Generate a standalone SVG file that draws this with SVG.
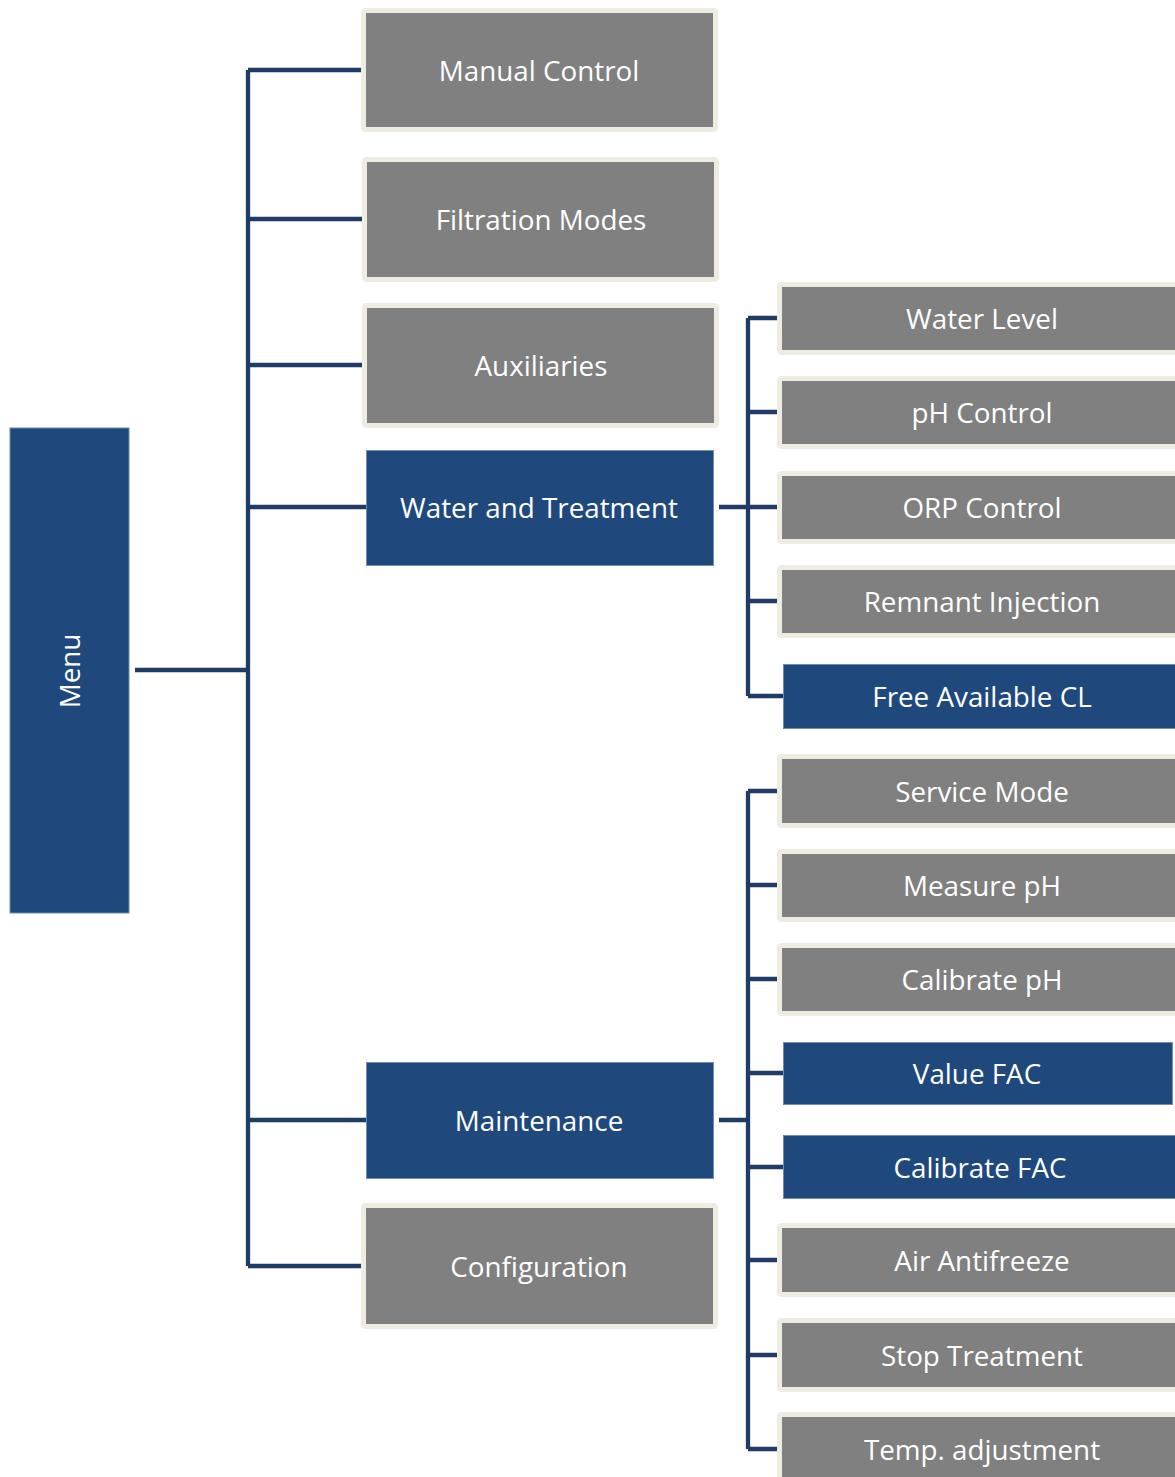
<svg xmlns="http://www.w3.org/2000/svg" width="1175" height="1477" viewBox="0 0 1175 1477">
<style>
.g{fill:#808080;stroke:#eeece1;stroke-width:5}
.b{fill:#1f497d;stroke:#6f8cb3;stroke-width:1}
.t{fill:#ffffff;font-family:"Open Sans","Noto Sans","DejaVu Sans",sans-serif;font-size:27.8px;text-anchor:middle}
.c{fill:none;stroke:#1f3b66;stroke-width:4.3}
</style>
<rect width="1175" height="1477" fill="#ffffff"/>
<g id="connectors">
<path class="c" d="M135 670H248M248 70V1266M248 70H361M248 219H362M248 365H362M248 507H366M248 1120H366M248 1266H361"/>
<path class="c" d="M719 507H748M748 318V696M748 318H777M748 412H777M748 507H777M748 601H777M748 696H783"/>
<path class="c" d="M719 1120H748M748 791V1449M748 791H777M748 885H777M748 979H777M748 1073H783M748 1167H783M748 1260H777M748 1355H777M748 1449H777"/>
</g>
<g id="menu"><rect class="b" x="10" y="428" width="119" height="485"/><text class="t" transform="translate(70 671) rotate(-90)" dy="0.36em">Menu</text></g>
<g id="manual-control"><rect class="g" x="363.5" y="10.5" width="352" height="119" rx="2"/><text class="t" x="539" y="71" dy="0.36em">Manual Control</text></g>
<g id="filtration-modes"><rect class="g" x="364.5" y="159.5" width="352" height="120" rx="2"/><text class="t" x="541" y="220" dy="0.36em">Filtration Modes</text></g>
<g id="auxiliaries"><rect class="g" x="364.5" y="305.5" width="352" height="120" rx="2"/><text class="t" x="541" y="366" dy="0.36em">Auxiliaries</text></g>
<g id="water-and-treatment"><rect class="b" x="366.5" y="450.5" width="347" height="115"/><text class="t" x="539" y="508" dy="0.36em">Water and Treatment</text></g>
<g id="maintenance"><rect class="b" x="366.5" y="1062.5" width="347" height="116"/><text class="t" x="539" y="1121" dy="0.36em">Maintenance</text></g>
<g id="configuration"><rect class="g" x="363.5" y="1205.5" width="352" height="121" rx="2"/><text class="t" x="539" y="1267" dy="0.36em">Configuration</text></g>
<g id="water-level"><rect class="g" x="779.5" y="284.5" width="410" height="68" rx="2"/><text class="t" x="982" y="319" dy="0.36em">Water Level</text></g>
<g id="ph-control"><rect class="g" x="779.5" y="378.5" width="410" height="68" rx="2"/><text class="t" x="982" y="413" dy="0.36em">pH Control</text></g>
<g id="orp-control"><rect class="g" x="779.5" y="473.5" width="410" height="68" rx="2"/><text class="t" x="982" y="508" dy="0.36em">ORP Control</text></g>
<g id="remnant-injection"><rect class="g" x="779.5" y="567.5" width="410" height="68" rx="2"/><text class="t" x="982" y="602" dy="0.36em">Remnant Injection</text></g>
<g id="free-available-cl"><rect class="b" x="783.5" y="664.5" width="400" height="64"/><text class="t" x="982" y="697" dy="0.36em">Free Available CL</text></g>
<g id="service-mode"><rect class="g" x="779.5" y="756.5" width="410" height="69" rx="2"/><text class="t" x="982" y="792" dy="0.36em">Service Mode</text></g>
<g id="measure-ph"><rect class="g" x="779.5" y="851.5" width="410" height="68" rx="2"/><text class="t" x="982" y="886" dy="0.36em">Measure pH</text></g>
<g id="calibrate-ph"><rect class="g" x="779.5" y="945.5" width="410" height="68" rx="2"/><text class="t" x="982" y="980" dy="0.36em">Calibrate pH</text></g>
<g id="value-fac"><rect class="b" x="783.5" y="1042.5" width="389" height="62"/><text class="t" x="977" y="1074" dy="0.36em">Value FAC</text></g>
<g id="calibrate-fac"><rect class="b" x="783.5" y="1135.5" width="400" height="63"/><text class="t" x="980" y="1168" dy="0.36em">Calibrate FAC</text></g>
<g id="air-antifreeze"><rect class="g" x="779.5" y="1225.5" width="410" height="69" rx="2"/><text class="t" x="982" y="1261" dy="0.36em">Air Antifreeze</text></g>
<g id="stop-treatment"><rect class="g" x="779.5" y="1320.5" width="410" height="69" rx="2"/><text class="t" x="982" y="1356" dy="0.36em">Stop Treatment</text></g>
<g id="temp-adjustment"><rect class="g" x="779.5" y="1414.5" width="410" height="69" rx="2"/><text class="t" x="982" y="1450" dy="0.36em">Temp. adjustment</text></g>
</svg>
